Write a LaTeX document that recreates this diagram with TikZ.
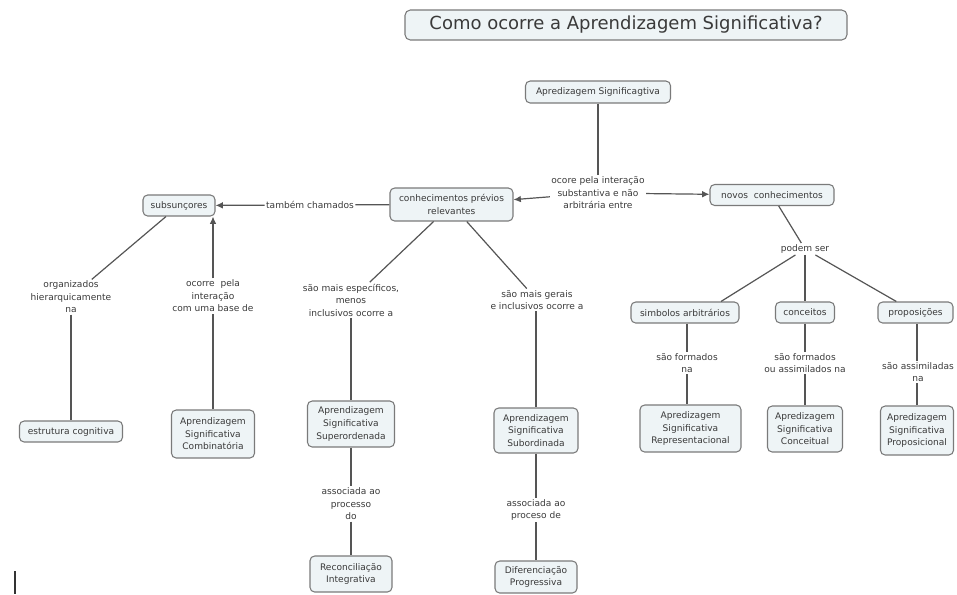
\documentclass[tikz,border=0pt]{standalone}
\usepackage{fontspec}
\setmainfont{DejaVu Sans}
\usetikzlibrary{arrows.meta}
\definecolor{boxfill}{HTML}{EEF4F6}
\definecolor{boxline}{HTML}{7A7A7A}
\definecolor{txt}{HTML}{3A3A3A}
\definecolor{conn}{HTML}{555555}
\begin{document}
\begin{tikzpicture}[x=0.75pt,y=-0.75pt,
  cbox/.style={draw=boxline, fill=boxfill, rounded corners=3.5pt, line width=0.8pt,
    align=center, text=txt, inner sep=1pt, font=\fontsize{6.8}{9.4}\selectfont},
  lbl/.style={align=center, text=txt, inner sep=1pt, font=\fontsize{6.8}{9.4}\selectfont},
  con/.style={draw=conn, line width=0.9pt},
  arr/.style={con, -{Latex[length=5.5pt,width=5pt]}}]
\useasboundingbox (0,0) rectangle (957,594);
% title
\node[cbox, minimum width=331.5pt, minimum height=22.5pt, font=\fontsize{13.5}{16}\selectfont, rounded corners=4pt] (title) at (626,25) {Como ocorre a Aprendizagem Significativa?};
% boxes
\node[cbox, minimum width=108.75pt, minimum height=16.5pt] (top) at (598,92) {Apredizagem Significagtiva};
\node[cbox, minimum width=92.25pt, minimum height=24.75pt] (conh) at (451.5,204.5) {conhecimentos prévios\\relevantes};
\node[cbox, minimum width=93pt, minimum height=15.75pt] (novos) at (772,195) {novos\ \ conhecimentos};
\node[cbox, minimum width=54pt, minimum height=15.75pt] (subs) at (179,205.5) {subsunçores};
\node[cbox, minimum width=77.25pt, minimum height=15.75pt] (estr) at (71,431.5) {estrutura cognitiva};
\node[cbox, minimum width=62.25pt, minimum height=36pt] (comb) at (213,434) {Aprendizagem\\Significativa\\Combinatória};
\node[cbox, minimum width=65.25pt, minimum height=34.5pt] (super) at (351,424) {Aprendizagem\\Significativa\\Superordenada};
\node[cbox, minimum width=61.5pt, minimum height=27pt] (recon) at (351,574) {Reconciliação\\Integrativa};
\node[cbox, minimum width=63pt, minimum height=33.75pt] (subord) at (536,430.5) {Aprendizagem\\Significativa\\Subordinada};
\node[cbox, minimum width=61.5pt, minimum height=24pt] (difer) at (536,577) {Diferenciação\\Progressiva};
\node[cbox, minimum width=81pt, minimum height=15.75pt] (simb) at (685,312.5) {simbolos arbitrários};
\node[cbox, minimum width=44.25pt, minimum height=15.75pt] (conc) at (805,312.5) {conceitos};
\node[cbox, minimum width=56.25pt, minimum height=15.75pt] (prop) at (915.5,312.5) {proposições};
\node[cbox, minimum width=75.75pt, minimum height=35.25pt] (repr) at (690.5,428.5) {Apredizagem\\Significativa\\Representacional};
\node[cbox, minimum width=56.25pt, minimum height=34.5pt] (concs) at (805,429) {Apredizagem\\Significativa\\Conceitual};
\node[cbox, minimum width=54.75pt, minimum height=36.75pt] (propo) at (917,430.5) {Apredizagem\\Significativa\\Proposicional};
% labels
\node[lbl] (l1) at (598,193) {ocore pela interação\\substantiva e não\\arbitrária entre};
\node[lbl] (l2) at (310,205) {também chamados};
\node[lbl] (l3) at (71,297) {organizados\\hierarquicamente\\na};
\node[lbl] (l4) at (213,296) {ocorre\ \ pela\\interação\\com uma base de};
\node[lbl] (l5) at (351,300) {são mais específicos,\\menos\\inclusivos ocorre a};
\node[lbl] (l6) at (537,300) {são mais gerais\\e inclusivos ocorre a};
\node[lbl] (l7) at (351,504) {associada ao\\processo\\do};
\node[lbl] (l8) at (536,510) {associada ao\\proceso de};
\node[lbl] (l9) at (805,249) {podem ser};
\node[lbl] (l10) at (687,363) {são formados\\na};
\node[lbl] (l11) at (805,363) {são formados\\ou assimilados na};
\node[lbl] (l12) at (918,372) {são assimiladas\\na};
% connectors
\draw[con] (top) -- (l1);
\draw[arr] (l1) -- (conh);
\draw[arr] (l1) -- (novos);
\draw[con] (conh) -- (l2);
\draw[arr] (l2) -- (subs);
\draw[con] (subs) -- (l3);
\draw[con] (l3) -- (estr);
\draw[con] (comb) -- (l4);
\draw[arr] (l4) -- (l4 |- subs.south);
\draw[con] (conh) -- (l5);
\draw[con] (l5) -- (super);
\draw[con] (super) -- (l7);
\draw[con] (l7) -- (recon);
\draw[con] (conh) -- (l6);
\draw[con] (l6.south -| subord.north) -- (subord);
\draw[con] (subord) -- (l8);
\draw[con] (l8) -- (difer);
\draw[con] (novos) -- (l9);
\draw[con] (l9) -- ([xshift=27pt]simb.north);
\draw[con] (l9) -- (conc);
\draw[con] (l9) -- (prop);
\draw[con] (l10.north |- simb.south) -- (l10);
\draw[con] (l10) -- (l10 |- repr.north);
\draw[con] (conc) -- (l11);
\draw[con] (l11) -- (concs);
\draw[con] (l12.north -| propo.north) -- (prop.south -| propo.north);
\draw[con] (l12.south -| propo.north) -- (propo);
% text cursor mark
\draw[line width=1.5pt, black!80] (15,571) -- (15,594);
\end{tikzpicture}
\end{document}
